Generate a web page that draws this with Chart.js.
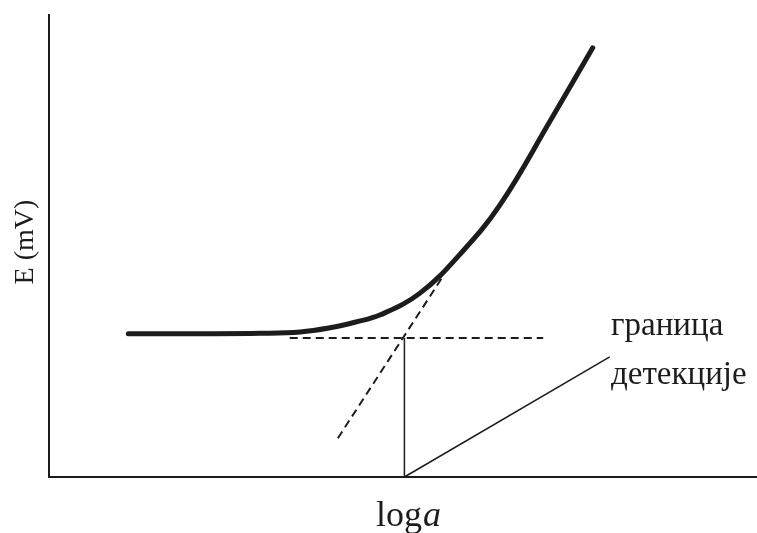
<!DOCTYPE html>
<html>
<head>
<meta charset="utf-8">
<script src="https://cdn.jsdelivr.net/npm/chart.js@4.4.1/dist/chart.umd.min.js"></script>
<style>
    html, body { margin: 0; padding: 0; background: #fff; }
    #wrap { width: 757px; height: 533px; }
</style>
</head>
<body>
<div id="wrap"><canvas id="chart" width="757" height="533"></canvas></div>
<script>
// axis ranges (arbitrary units, no ticks shown)
const xRange = [0, 10];
const yRange = [0, 10];

// electrode response curve E vs log a
const curveLogA = [1.12, 2.13, 2.98, 3.55, 3.97, 4.32, 4.68, 5.24, 5.81, 6.37, 7.08, 7.68];
const curveE    = [3.10, 3.10, 3.11, 3.14, 3.23, 3.35, 3.51, 3.98, 4.83, 5.89, 7.71, 9.29];

// dashed extrapolations
const baselineLogA = [3.40, 6.98];
const baselineE    = [3.01, 3.01];
const tangentLogA  = [4.08, 5.55];
const tangentE     = [0.84, 4.31];

// detection limit drop line and label pointer
const limitLogA   = [5.02, 5.02];
const limitE      = [0, 3.01];
const pointerLogA = [5.02, 7.92];
const pointerE    = [0, 2.60];

// texts
const yTitle = 'E (mV)';
const xTitleMain = 'log';
const xTitleVar = 'a';
const noteLines = ['граница', 'детекције'];

const toPoints = (xs, ys) => xs.map((x, i) => ({ x: x, y: ys[i] }));

const ink = '#1c1c1c';

const lineSet = (xs, ys, width, dash, extra) => Object.assign({
    data: toPoints(xs, ys),
    showLine: true,
    borderColor: ink,
    borderWidth: width,
    borderDash: dash,
    pointRadius: 0,
    fill: false,
    clip: false
}, extra || {});

// text labels drawn onto the canvas
const labelPlugin = {
    id: 'labels',
    afterDraw(chart) {
        const ctx = chart.ctx;
        ctx.save();
        ctx.fillStyle = ink;

        // y title
        ctx.font = '28px "Liberation Serif"';
        ctx.translate(33, 242);
        ctx.rotate(-Math.PI / 2);
        ctx.textAlign = 'center';
        ctx.textBaseline = 'alphabetic';
        ctx.fillText(yTitle, 0, 0);
        ctx.setTransform(1, 0, 0, 1, 0, 0);

        // x title: log + italic a
        ctx.textAlign = 'left';
        ctx.font = '36px "Liberation Serif"';
        const w1 = ctx.measureText(xTitleMain).width;
        ctx.font = 'italic 36px "Liberation Serif"';
        const w2 = ctx.measureText(xTitleVar).width;
        const x0 = 408 - (w1 + w2) / 2;
        ctx.font = '36px "Liberation Serif"';
        ctx.fillText(xTitleMain, x0, 526);
        ctx.font = 'italic 36px "Liberation Serif"';
        ctx.fillText(xTitleVar, x0 + w1 + 1, 526);

        // detection limit note
        ctx.font = '33px "Liberation Serif"';
        ctx.fillText(noteLines[0], 611, 335);
        ctx.fillText(noteLines[1], 611, 384);
        ctx.restore();
    }
};

const hiddenScale = (range) => ({
    type: 'linear',
    min: range[0],
    max: range[1],
    ticks: { display: false },
    grid: { display: false, drawTicks: false },
    border: { display: true, color: ink, width: 2 }
});

const xScale = hiddenScale(xRange);
xScale.afterFit = (scale) => { scale.height = 0; };
const yScale = hiddenScale(yRange);
yScale.afterFit = (scale) => { scale.width = 0; };

new Chart(document.getElementById('chart').getContext('2d'), {
    type: 'scatter',
    data: {
        datasets: [
            lineSet(curveLogA, curveE, 5, [], { tension: 0.4, borderCapStyle: 'round' }),
            lineSet(baselineLogA, baselineE, 2, [8, 5]),
            lineSet(tangentLogA, tangentE, 2, [8, 5]),
            lineSet(limitLogA, limitE, 1.5, []),
            lineSet(pointerLogA, pointerE, 1.5, [])
        ]
    },
    options: {
        responsive: false,
        animation: false,
        layout: { padding: { left: 49, top: 15, right: 0, bottom: 56 } },
        plugins: {
            legend: { display: false },
            tooltip: { enabled: false }
        },
        scales: { x: xScale, y: yScale }
    },
    plugins: [labelPlugin]
});
</script>
</body>
</html>
